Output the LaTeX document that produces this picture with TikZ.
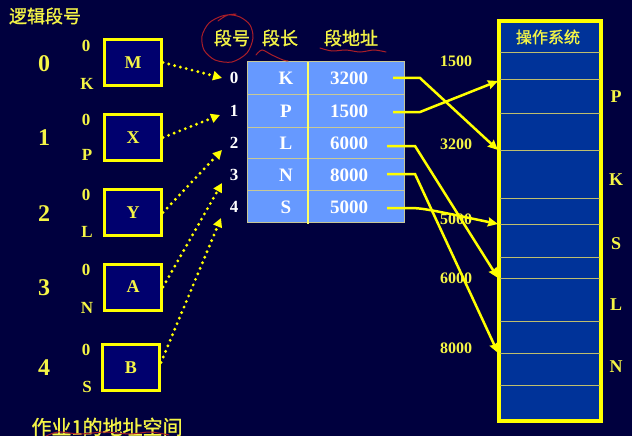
\documentclass[tikz,border=0pt]{standalone}
\usepackage{fontspec}
\setmainfont{Liberation Serif}
\newfontfamily\cjk[FakeBold=1.2]{Noto Sans CJK SC}
\usetikzlibrary{arrows.meta}
\definecolor{bg}{RGB}{0,0,62}
\definecolor{ty}{RGB}{245,245,70}
\definecolor{ln}{RGB}{255,255,0}
\definecolor{boxblue}{RGB}{0,0,110}
\definecolor{tblue}{RGB}{102,153,255}
\definecolor{grid}{RGB}{200,200,150}
\definecolor{memblue}{RGB}{0,51,153}
\definecolor{memline}{RGB}{190,190,110}
\definecolor{redpen}{RGB}{170,30,40}
\begin{document}
\begin{tikzpicture}[x=1pt,y=-1pt,
  ytxt/.style={text=ty,font=\bfseries\fontsize{#1}{#1}\selectfont,inner sep=0},
  ytxt/.default=17,
  wtxt/.style={text=white,font=\bfseries\fontsize{#1}{#1}\selectfont,inner sep=0},
  wtxt/.default=19,
  ctxt/.style={text=ty,font=\cjk\fontsize{#1}{#1}\selectfont,inner sep=0},
  ctxt/.default=18,
  segbox/.style={draw=ln,line width=3pt,fill=boxblue,minimum width=57pt,minimum height=46pt,
     text=ty,font=\bfseries\fontsize{18}{18}\selectfont},
  dotarrow/.style={ln,line width=3.2pt,dash pattern=on 0pt off 6pt,line cap=round,
     -{Triangle[length=9pt,width=9pt]}},
  solidarrow/.style={ln,line width=2.5pt,-{Stealth[length=10pt,width=9pt,inset=1pt]}},
  gridline/.style={grid,line width=1pt},
  memsep/.style={memline,line width=1pt},
  redmark/.style={redpen,line width=1pt,line cap=round}
]
\fill[bg] (0,0) rectangle (632,436);
\useasboundingbox (0,0) rectangle (632,436);

% ---------- left: logical segments ----------
\node[ctxt] (title) at (45,16) {逻辑段号};
\foreach \i/\y/\lt/\lb/\yt/\yb in
  {0/64/0/K/46/84, 1/138/0/P/120/155, 2/214/0/L/195/232,
   3/288/0/N/270/308, 4/368/0/S/350/387}{
  \node[ytxt=24] (num\i) at (44,\y) {\i};
  \node[ytxt] (zero\i) at (86,\yt) {\lt};
  \node[ytxt] (len\i) at (87,\yb) {\lb};
}
\node[segbox] (bM) at (133,62.5) {M};
\node[segbox] (bX) at (133,137.5) {X};
\node[segbox] (bY) at (133,212.5) {Y};
\node[segbox] (bA) at (133,287) {A};
\node[segbox] (bB) at (131,367.5) {B};
\node[ctxt=20] (job) at (107,427) {作业1的地址空间};

% ---------- segment table ----------
\node[ctxt] (hno) at (232,38) {段号};
\node[ctxt] (hlen) at (280,38) {段长};
\node[ctxt] (hadr) at (351,38) {段地址};
\node[draw=grid,line width=1pt,fill=tblue,minimum width=157pt,minimum height=160pt,inner sep=0] (tbl) at (325.5,142) {};
\foreach \y in {94,127,158,190}{ \draw[gridline] (247,\y) -- (404,\y); }
\draw[ln!60!white,line width=1.5pt] (308,62) -- (308,224);
\foreach \i/\y/\l/\a in {0/78/K/3200, 1/111/P/1500, 2/143/L/6000, 3/175/N/8000, 4/207/S/5000}{
  \node[wtxt=17] (r\i) at (234,\y) {\i};
  \node[wtxt] (tl\i) at (286,\y) {\l};
  \node[wtxt] (ta\i) at (349,\y) {\a};
}

% ---------- memory ----------
\node[draw=ln,line width=4pt,fill=memblue,minimum width=102pt,minimum height=400pt,inner sep=0] (mem) at (550,221) {};
\foreach \y in {53,80,113,150,198,224,257,278,321,353,385}{ \draw[memsep] (500,\y) -- (600,\y); }
\node[ctxt=16] (os) at (548,37) {操作系统};
\node[ctxt=20] (main) at (553,446) {主存};
\foreach \n/\y/\t in {P/97/P, K/180/K, S/244/S, L/305/L, N/367/N}{
  \node[ytxt=18] (m\n) at (616,\y) {\t};
}
\foreach \n/\y in {1500/61, 3200/144, 5000/219, 6000/278, 8000/348}{
  \node[ytxt=16] (a\n) at (456,\y) {\n};
}

% ---------- coordinates ----------
\coordinate (t0) at (222,78);
\coordinate (t1) at (220,115);
\coordinate (t2) at (222,150);
\coordinate (t3) at (222,183);
\coordinate (t4) at (221,218);
\coordinate (s0) at (393,78);  \coordinate (k0) at (420,78);
\coordinate (s1) at (393,112); \coordinate (k1) at (420,112);
\coordinate (s2) at (387,146); \coordinate (k2) at (415,146);
\coordinate (s3) at (387,174); \coordinate (k3) at (415,174);
\coordinate (s4) at (387,208); \coordinate (k4) at (405,208);
\coordinate (e3200) at (498,150);
\coordinate (e1500) at (498,81);
\coordinate (e6000) at (498,278);
\coordinate (e8000) at (498,353);
\coordinate (e5000) at (498,224);

% ---------- dotted arrows ----------
\draw[dotarrow] (bM.east) -- (t0);
\draw[dotarrow] (bX.east) -- (t1);
\draw[dotarrow] (bY.east) -- (t2);
\draw[dotarrow] (bA.east) -- (t3);
\draw[dotarrow] ([yshift=5pt]bB.east) -- (t4);

% ---------- solid arrows ----------
\draw[solidarrow] (s0) -- (k0) -- (e3200);
\draw[solidarrow] (s1) -- (k1) -- (e1500);
\draw[solidarrow] (s2) -- (k2) -- (e6000);
\draw[solidarrow] (s3) -- (k3) -- (e8000);
\draw[solidarrow] (s4) -- (k4) .. controls (422,208) .. (e5000);

% ---------- red pen marks ----------
\draw[redmark] plot[smooth] coordinates {(218,21) (228,15) (240,17) (250,25) (253,38) (247,53) (232,62) (215,60) (204,50) (202,36) (209,23) (222,16) (236,14)};
\draw[redmark] plot[smooth] coordinates {(256,55) (262,50) (272,55) (283,60) (288,61)};
\draw[redmark] plot[smooth] coordinates {(320,48) (332,51) (346,50) (360,52) (374,50) (386,52)};
\draw[redmark] plot[smooth] coordinates {(44,437) (58,432) (80,434) (105,432) (130,434) (150,432) (169,435)};
\end{tikzpicture}
\end{document}
